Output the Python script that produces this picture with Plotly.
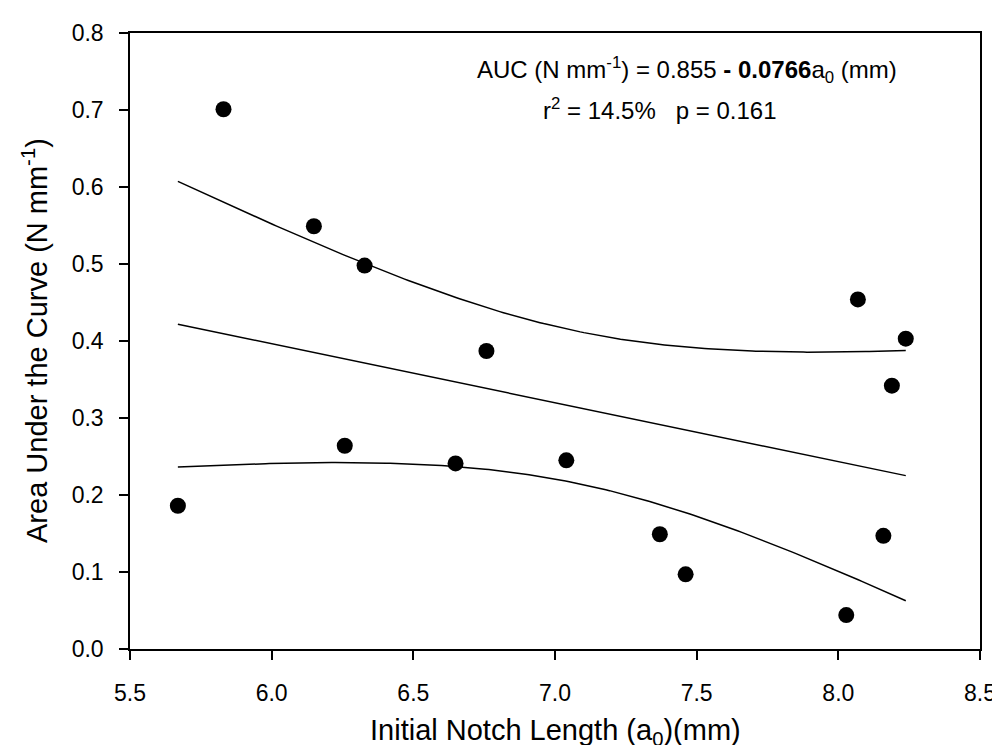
import numpy as np
import plotly.graph_objects as go

# Data
notch_length = [5.669, 5.830, 6.149, 6.258, 6.328, 6.649, 6.758, 7.040,
                7.370, 7.461, 8.028, 8.069, 8.159, 8.189, 8.238]
auc = [0.186, 0.701, 0.549, 0.264, 0.498, 0.241, 0.387, 0.245,
       0.149, 0.097, 0.044, 0.454, 0.147, 0.342, 0.403]
x_ticks = [5.5, 6.0, 6.5, 7.0, 7.5, 8.0, 8.5]
y_ticks = [0.0, 0.1, 0.2, 0.3, 0.4, 0.5, 0.6, 0.7, 0.8]

# Linear regression with 95% confidence band
x = np.array(notch_length)
y = np.array(auc)
n = len(x)
slope, intercept = np.polyfit(x, y, 1)
resid = y - (intercept + slope * x)
s = np.sqrt(np.sum(resid ** 2) / (n - 2))
sxx = np.sum((x - x.mean()) ** 2)
t_crit = 2.160  # t(0.975, df=13)
xg = np.linspace(x.min(), x.max(), 200)
yg = intercept + slope * xg
half = t_crit * s * np.sqrt(1.0 / n + (xg - x.mean()) ** 2 / sxx)

FONT = "Arial, 'Liberation Sans', sans-serif"
line_style = dict(color="black", width=1.5)

fig = go.Figure()
fig.add_trace(go.Scatter(x=xg, y=yg + half, mode="lines", line=line_style, hoverinfo="skip"))
fig.add_trace(go.Scatter(x=xg, y=yg, mode="lines", line=line_style, hoverinfo="skip"))
fig.add_trace(go.Scatter(x=xg, y=yg - half, mode="lines", line=line_style, hoverinfo="skip"))
fig.add_trace(go.Scatter(x=notch_length, y=auc, mode="markers",
                         marker=dict(color="black", size=16, line=dict(width=0))))

axis_common = dict(
    showline=True, linecolor="black", linewidth=1.5, mirror=True,
    ticks="outside", ticklen=9, tickwidth=1.5, tickcolor="black",
    showgrid=False, zeroline=False,
    tickfont=dict(family=FONT, size=23, color="black"),
    tickformat=".1f",
)

fig.update_layout(
    width=1000, height=745,
    margin=dict(l=122, r=21, t=24, b=104),
    plot_bgcolor="white", paper_bgcolor="white",
    showlegend=False,
    font=dict(family=FONT, color="black"),
    xaxis=dict(range=[5.5, 8.5], tickvals=x_ticks, ticklabelstandoff=14, **axis_common),
    yaxis=dict(range=[0, 0.8], tickvals=y_ticks, ticklabelstandoff=11, **axis_common),
    annotations=[
        dict(x=0.5, y=0, xref="paper", yref="paper", showarrow=False,
             xanchor="center", yanchor="middle", yshift=-83,
             text="Initial Notch Length (a<sub>0</sub>)(mm)",
             font=dict(family=FONT, size=29, color="black")),
        dict(x=0, y=0.5, xref="paper", yref="paper", showarrow=False,
             xanchor="center", yanchor="middle", xshift=-95, textangle=-90,
             text="Area Under the Curve (N mm<sup>-1</sup>)",
             font=dict(family=FONT, size=29, color="black")),
        dict(x=7.466, y=0.752, xref="x", yref="y", showarrow=False,
             xanchor="center", yanchor="middle",
             text="AUC (N mm<sup>-1</sup>) = 0.855 <b>- 0.0766</b>a<sub>0</sub> (mm)",
             font=dict(family=FONT, size=24, color="black")),
        dict(x=7.370, y=0.701, xref="x", yref="y", showarrow=False,
             xanchor="center", yanchor="middle",
             text="r<sup>2</sup> = 14.5%   p = 0.161",
             font=dict(family=FONT, size=24, color="black")),
    ],
)

fig.write_html("out.html")
